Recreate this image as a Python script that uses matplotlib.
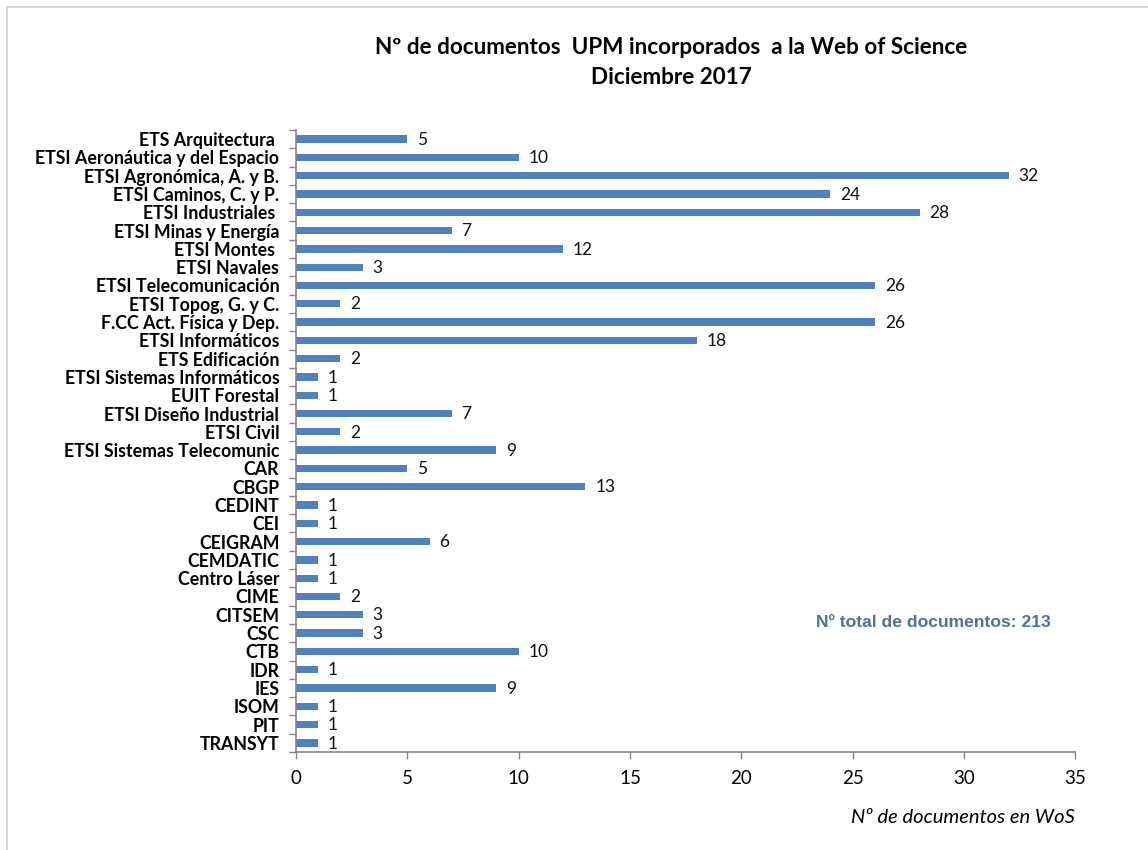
import matplotlib.pyplot as plt
from matplotlib.patches import Rectangle

# data
centros = ["ETS Arquitectura ", "ETSI Aeronáutica y del Espacio", "ETSI Agronómica, A. y B.",
           "ETSI Caminos, C. y P.", "ETSI Industriales ", "ETSI Minas y Energía", "ETSI Montes ",
           "ETSI Navales", "ETSI Telecomunicación", "ETSI Topog, G. y C.", "F.CC Act. Física y Dep.",
           "ETSI Informáticos", "ETS Edificación", "ETSI Sistemas Informáticos", "EUIT Forestal",
           "ETSI Diseño Industrial", "ETSI Civil", "ETSI Sistemas Telecomunic", "CAR", "CBGP",
           "CEDINT", "CEI", "CEIGRAM", "CEMDATIC", "Centro Láser", "CIME", "CITSEM", "CSC",
           "CTB", "IDR", "IES", "ISOM", "PIT", "TRANSYT"]
documentos = [5, 10, 32, 24, 28, 7, 12, 3, 26, 2, 26, 18, 2, 1, 1, 7, 2, 9, 5, 13,
              1, 1, 6, 1, 1, 2, 3, 3, 10, 1, 9, 1, 1, 1]
xticks = [0, 5, 10, 15, 20, 25, 30, 35]

font = ['Lato', 'DejaVu Sans']
bar_color = '#4F81BD'
axis_gray = '#868686'

fig = plt.figure(figsize=(11.48, 8.5), dpi=100)
ax = fig.add_axes([0.2578, 0.1153, 0.6790, 0.7318])

# light frame around the chart (only top/left visible in the reference)
fig.patches.append(Rectangle((0.006, -0.1), 1.2, 1.0918, transform=fig.transFigure,
                             fill=False, edgecolor='#d0d0d0', linewidth=1.2))

y = list(range(len(centros)))
ax.barh(y, documentos, height=0.4, color=bar_color, zorder=2)
for yi, v in zip(y, documentos):
    ax.annotate(str(v), (v, yi), xytext=(7, -0.5), textcoords='offset points',
                ha='left', va='center', fontsize=12.5, family=font, color='#111111')

ax.set_ylim(len(centros) - 0.5, -0.5)
ax.set_xlim(0, 35)
ax.set_xticks(xticks)
ax.set_xticklabels([str(t) for t in xticks], family=font, fontsize=13.5)

ax.set_yticks(y)
ax.set_yticklabels(centros, family=font, fontsize=12.8, fontweight='bold')
ax.set_yticks([i - 0.5 for i in range(len(centros) + 1)], minor=True)
ax.tick_params(axis='y', which='major', length=0, pad=12)
ax.tick_params(axis='y', which='minor', length=5, color=axis_gray, width=1)
ax.tick_params(axis='x', length=5, color=axis_gray, width=1, pad=8)

for s in ['top', 'right']:
    ax.spines[s].set_visible(False)
for s in ['left', 'bottom']:
    ax.spines[s].set_color(axis_gray)
    ax.spines[s].set_linewidth(1.2)

fig.text(0.585, 0.944, "Nº de documentos  UPM incorporados  a la Web of Science",
         ha='center', va='center', fontsize=16.2, fontweight='bold', family=font)
fig.text(0.585, 0.909, "Diciembre 2017", ha='center', va='center',
         fontsize=16.2, fontweight='bold', family=font)

fig.text(0.936, 0.038, "Nº de documentos en WoS", ha='right', va='center',
         fontsize=14.5, style='italic', family=font)
fig.text(0.711, 0.268, "Nº total de documentos: 213", ha='left', va='center',
         fontsize=12.6, fontweight='bold', family=['Liberation Sans', 'DejaVu Sans'],
         color='#4A72A8')

fig.savefig('out.png', dpi=100)
